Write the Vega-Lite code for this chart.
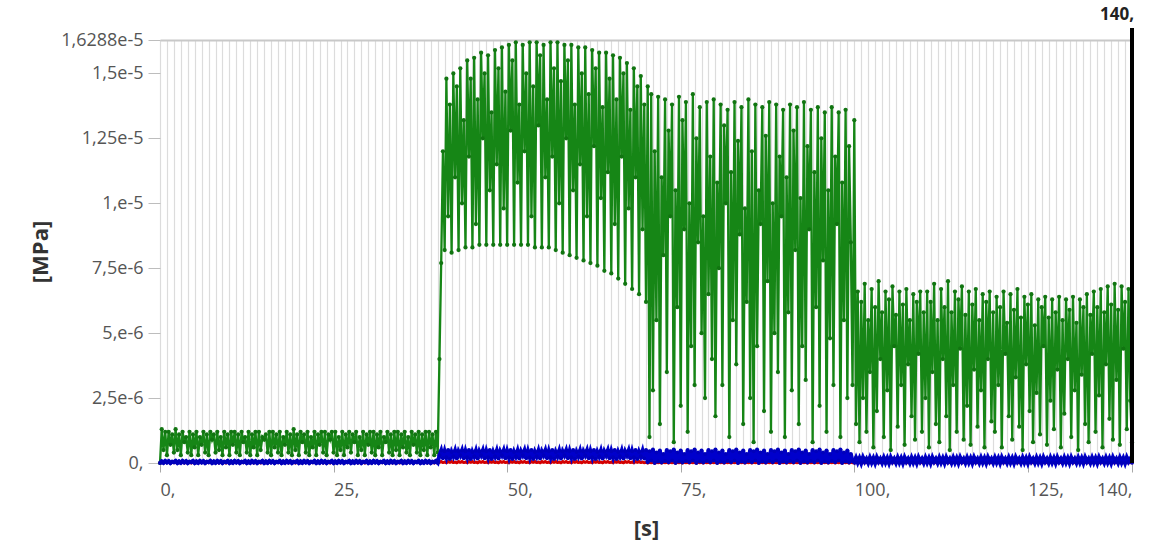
{
"$schema": "https://vega.github.io/schema/vega-lite/v6.json",
"width": 972, "height": 423,
"autosize": {"type": "none"},
"padding": {"left": 160, "top": 40, "right": 22, "bottom": 84},
"background": "white",
"config": {"view": {"stroke": null}, "font": "Open Sans"},
"data": {"values": [
{"t":0,"g":0,"b":0,"r":1e-8},{"t":0.25,"g":13e-7,"b":6e-8,"r":3e-8},{"t":0.5,"g":5e-7,"b":1e-8,"r":0},{"t":0.75,"g":12e-7,"b":8e-8,"r":2e-8},{"t":1,"g":3e-7,"b":2e-8,"r":1e-8},{"t":1.25,"g":12e-7,"b":7e-8,"r":3e-8},{"t":1.5,"g":7e-7,"b":0,"r":0},{"t":1.75,"g":11e-7,"b":5e-8,"r":2e-8},
{"t":2,"g":4e-7,"b":3e-8,"r":1e-8},{"t":2.25,"g":13e-7,"b":8e-8,"r":3e-8},{"t":2.5,"g":5e-7,"b":0,"r":0},{"t":2.75,"g":11e-7,"b":6e-8,"r":2e-8},{"t":3,"g":3e-7,"b":1e-8,"r":1e-8},{"t":3.25,"g":12e-7,"b":8e-8,"r":3e-8},{"t":3.5,"g":8e-7,"b":2e-8,"r":0},{"t":3.75,"g":10e-7,"b":7e-8,"r":2e-8},
{"t":4,"g":4e-7,"b":0,"r":1e-8},{"t":4.25,"g":12e-7,"b":5e-8,"r":3e-8},{"t":4.5,"g":3e-7,"b":3e-8,"r":0},{"t":4.75,"g":11e-7,"b":8e-8,"r":2e-8},{"t":5,"g":6e-7,"b":0,"r":1e-8},{"t":5.25,"g":12e-7,"b":6e-8,"r":3e-8},{"t":5.5,"g":3e-7,"b":1e-8,"r":0},{"t":5.75,"g":10e-7,"b":8e-8,"r":2e-8},
{"t":6,"g":7e-7,"b":2e-8,"r":1e-8},{"t":6.25,"g":12e-7,"b":7e-8,"r":3e-8},{"t":6.5,"g":4e-7,"b":0,"r":0},{"t":6.75,"g":11e-7,"b":5e-8,"r":2e-8},{"t":7,"g":3e-7,"b":3e-8,"r":1e-8},{"t":7.25,"g":12e-7,"b":8e-8,"r":3e-8},{"t":7.5,"g":9e-7,"b":0,"r":0},{"t":7.75,"g":11e-7,"b":6e-8,"r":2e-8},
{"t":8,"g":4e-7,"b":1e-8,"r":1e-8},{"t":8.25,"g":12e-7,"b":8e-8,"r":3e-8},{"t":8.5,"g":5e-7,"b":2e-8,"r":0},{"t":8.75,"g":10e-7,"b":7e-8,"r":2e-8},{"t":9,"g":3e-7,"b":0,"r":1e-8},{"t":9.25,"g":12e-7,"b":5e-8,"r":3e-8},{"t":9.5,"g":6e-7,"b":3e-8,"r":0},{"t":9.75,"g":11e-7,"b":8e-8,"r":2e-8},
{"t":10,"g":3e-7,"b":0,"r":1e-8},{"t":10.25,"g":12e-7,"b":6e-8,"r":3e-8},{"t":10.5,"g":7e-7,"b":1e-8,"r":0},{"t":10.75,"g":12e-7,"b":8e-8,"r":2e-8},{"t":11,"g":4e-7,"b":2e-8,"r":1e-8},{"t":11.25,"g":11e-7,"b":7e-8,"r":3e-8},{"t":11.5,"g":3e-7,"b":0,"r":0},{"t":11.75,"g":12e-7,"b":5e-8,"r":2e-8},
{"t":12,"g":8e-7,"b":3e-8,"r":1e-8},{"t":12.25,"g":10e-7,"b":8e-8,"r":3e-8},{"t":12.5,"g":4e-7,"b":0,"r":0},{"t":12.75,"g":12e-7,"b":6e-8,"r":2e-8},{"t":13,"g":3e-7,"b":1e-8,"r":1e-8},{"t":13.25,"g":11e-7,"b":8e-8,"r":3e-8},{"t":13.5,"g":6e-7,"b":2e-8,"r":0},{"t":13.75,"g":12e-7,"b":7e-8,"r":2e-8},
{"t":14,"g":3e-7,"b":0,"r":1e-8},{"t":14.25,"g":12e-7,"b":5e-8,"r":3e-8},{"t":14.5,"g":5e-7,"b":3e-8,"r":0},{"t":14.75,"g":10e-7,"b":8e-8,"r":2e-8},{"t":15,"g":9e-7,"b":0,"r":1e-8},{"t":15.25,"g":11e-7,"b":6e-8,"r":3e-8},{"t":15.5,"g":4e-7,"b":1e-8,"r":0},{"t":15.75,"g":12e-7,"b":8e-8,"r":2e-8},
{"t":16,"g":3e-7,"b":2e-8,"r":1e-8},{"t":16.25,"g":12e-7,"b":7e-8,"r":3e-8},{"t":16.5,"g":6e-7,"b":0,"r":0},{"t":16.75,"g":11e-7,"b":5e-8,"r":2e-8},{"t":17,"g":4e-7,"b":3e-8,"r":1e-8},{"t":17.25,"g":12e-7,"b":8e-8,"r":3e-8},{"t":17.5,"g":3e-7,"b":0,"r":0},{"t":17.75,"g":10e-7,"b":6e-8,"r":2e-8},
{"t":18,"g":7e-7,"b":1e-8,"r":1e-8},{"t":18.25,"g":12e-7,"b":8e-8,"r":3e-8},{"t":18.5,"g":4e-7,"b":2e-8,"r":0},{"t":18.75,"g":11e-7,"b":7e-8,"r":2e-8},{"t":19,"g":3e-7,"b":0,"r":1e-8},{"t":19.25,"g":13e-7,"b":5e-8,"r":3e-8},{"t":19.5,"g":5e-7,"b":3e-8,"r":0},{"t":19.75,"g":11e-7,"b":8e-8,"r":2e-8},
{"t":20,"g":3e-7,"b":0,"r":1e-8},{"t":20.25,"g":12e-7,"b":6e-8,"r":3e-8},{"t":20.5,"g":8e-7,"b":1e-8,"r":0},{"t":20.75,"g":11e-7,"b":8e-8,"r":2e-8},{"t":21,"g":4e-7,"b":2e-8,"r":1e-8},{"t":21.25,"g":12e-7,"b":7e-8,"r":3e-8},{"t":21.5,"g":3e-7,"b":0,"r":0},{"t":21.75,"g":10e-7,"b":5e-8,"r":2e-8},
{"t":22,"g":6e-7,"b":3e-8,"r":1e-8},{"t":22.25,"g":12e-7,"b":8e-8,"r":3e-8},{"t":22.5,"g":3e-7,"b":0,"r":0},{"t":22.75,"g":11e-7,"b":6e-8,"r":2e-8},{"t":23,"g":7e-7,"b":1e-8,"r":1e-8},{"t":23.25,"g":12e-7,"b":8e-8,"r":3e-8},{"t":23.5,"g":4e-7,"b":2e-8,"r":0},{"t":23.75,"g":12e-7,"b":7e-8,"r":2e-8},
{"t":24,"g":3e-7,"b":0,"r":1e-8},{"t":24.25,"g":11e-7,"b":5e-8,"r":3e-8},{"t":24.5,"g":9e-7,"b":3e-8,"r":0},{"t":24.75,"g":12e-7,"b":8e-8,"r":2e-8},{"t":25,"g":4e-7,"b":0,"r":1e-8},{"t":25.25,"g":12e-7,"b":6e-8,"r":3e-8},{"t":25.5,"g":3e-7,"b":1e-8,"r":0},{"t":25.75,"g":10e-7,"b":8e-8,"r":2e-8},
{"t":26,"g":5e-7,"b":2e-8,"r":1e-8},{"t":26.25,"g":12e-7,"b":7e-8,"r":3e-8},{"t":26.5,"g":3e-7,"b":0,"r":0},{"t":26.75,"g":11e-7,"b":5e-8,"r":2e-8},{"t":27,"g":6e-7,"b":3e-8,"r":1e-8},{"t":27.25,"g":12e-7,"b":8e-8,"r":3e-8},{"t":27.5,"g":4e-7,"b":0,"r":0},{"t":27.75,"g":11e-7,"b":6e-8,"r":2e-8},
{"t":28,"g":8e-7,"b":1e-8,"r":1e-8},{"t":28.25,"g":12e-7,"b":8e-8,"r":3e-8},{"t":28.5,"g":3e-7,"b":2e-8,"r":0},{"t":28.75,"g":10e-7,"b":7e-8,"r":2e-8},{"t":29,"g":5e-7,"b":0,"r":1e-8},{"t":29.25,"g":12e-7,"b":5e-8,"r":3e-8},{"t":29.5,"g":3e-7,"b":3e-8,"r":0},{"t":29.75,"g":11e-7,"b":8e-8,"r":2e-8},
{"t":30,"g":7e-7,"b":0,"r":1e-8},{"t":30.25,"g":12e-7,"b":6e-8,"r":3e-8},{"t":30.5,"g":4e-7,"b":1e-8,"r":0},{"t":30.75,"g":12e-7,"b":8e-8,"r":2e-8},{"t":31,"g":3e-7,"b":2e-8,"r":1e-8},{"t":31.25,"g":11e-7,"b":7e-8,"r":3e-8},{"t":31.5,"g":6e-7,"b":0,"r":0},{"t":31.75,"g":12e-7,"b":5e-8,"r":2e-8},
{"t":32,"g":3e-7,"b":3e-8,"r":1e-8},{"t":32.25,"g":10e-7,"b":8e-8,"r":3e-8},{"t":32.5,"g":8e-7,"b":0,"r":0},{"t":32.75,"g":12e-7,"b":6e-8,"r":2e-8},{"t":33,"g":4e-7,"b":1e-8,"r":1e-8},{"t":33.25,"g":11e-7,"b":8e-8,"r":3e-8},{"t":33.5,"g":3e-7,"b":2e-8,"r":0},{"t":33.75,"g":12e-7,"b":7e-8,"r":2e-8},
{"t":34,"g":5e-7,"b":0,"r":1e-8},{"t":34.25,"g":12e-7,"b":5e-8,"r":3e-8},{"t":34.5,"g":3e-7,"b":3e-8,"r":0},{"t":34.75,"g":11e-7,"b":8e-8,"r":2e-8},{"t":35,"g":6e-7,"b":0,"r":1e-8},{"t":35.25,"g":12e-7,"b":6e-8,"r":3e-8},{"t":35.5,"g":4e-7,"b":1e-8,"r":0},{"t":35.75,"g":10e-7,"b":8e-8,"r":2e-8},
{"t":36,"g":3e-7,"b":2e-8,"r":1e-8},{"t":36.25,"g":12e-7,"b":7e-8,"r":3e-8},{"t":36.5,"g":7e-7,"b":0,"r":0},{"t":36.75,"g":11e-7,"b":5e-8,"r":2e-8},{"t":37,"g":4e-7,"b":3e-8,"r":1e-8},{"t":37.25,"g":12e-7,"b":8e-8,"r":3e-8},{"t":37.5,"g":3e-7,"b":0,"r":0},{"t":37.75,"g":11e-7,"b":6e-8,"r":2e-8},
{"t":38,"g":5e-7,"b":1e-8,"r":1e-8},{"t":38.25,"g":12e-7,"b":8e-8,"r":3e-8},{"t":38.5,"g":3e-7,"b":2e-8,"r":0},{"t":38.75,"g":12e-7,"b":7e-8,"r":2e-8},{"t":39,"g":6e-7,"b":0,"r":1e-8},{"t":39.25,"g":11e-7,"b":5e-8,"r":3e-8},{"t":39.5,"g":3e-7,"b":3e-8,"r":0},{"t":39.75,"g":12e-7,"b":8e-8,"r":2e-8},
{"t":40,"g":4e-7,"b":1e-8,"r":1e-8},
{"t":40.25,"g":40e-7,"b":30e-8,"r":3e-8},{"t":40.5,"g":77e-7,"b":48e-8,"r":5e-8},{"t":40.75,"g":120e-7,"b":18e-8,"r":2e-8},{"t":41,"g":82e-7,"b":45e-8,"r":4e-8},{"t":41.25,"g":148e-7,"b":22e-8,"r":1e-8},{"t":41.5,"g":95e-7,"b":50e-8,"r":5e-8},{"t":41.75,"g":138e-7,"b":15e-8,"r":3e-8},{"t":42,"g":81e-7,"b":42e-8,"r":5e-8},
{"t":42.25,"g":150e-7,"b":26e-8,"r":2e-8},{"t":42.5,"g":110e-7,"b":47e-8,"r":4e-8},{"t":42.75,"g":145e-7,"b":17e-8,"r":1e-8},{"t":43,"g":82e-7,"b":44e-8,"r":5e-8},{"t":43.25,"g":152e-7,"b":30e-8,"r":3e-8},{"t":43.5,"g":100e-7,"b":48e-8,"r":5e-8},{"t":43.75,"g":132e-7,"b":18e-8,"r":2e-8},{"t":44,"g":83e-7,"b":45e-8,"r":4e-8},
{"t":44.25,"g":155e-7,"b":22e-8,"r":1e-8},{"t":44.5,"g":118e-7,"b":50e-8,"r":5e-8},{"t":44.75,"g":148e-7,"b":15e-8,"r":3e-8},{"t":45,"g":83e-7,"b":42e-8,"r":5e-8},{"t":45.25,"g":156e-7,"b":26e-8,"r":2e-8},{"t":45.5,"g":92e-7,"b":47e-8,"r":4e-8},{"t":45.75,"g":140e-7,"b":17e-8,"r":1e-8},{"t":46,"g":84e-7,"b":44e-8,"r":5e-8},
{"t":46.25,"g":158e-7,"b":30e-8,"r":3e-8},{"t":46.5,"g":125e-7,"b":48e-8,"r":5e-8},{"t":46.75,"g":150e-7,"b":18e-8,"r":2e-8},{"t":47,"g":84e-7,"b":45e-8,"r":4e-8},{"t":47.25,"g":157e-7,"b":22e-8,"r":1e-8},{"t":47.5,"g":105e-7,"b":50e-8,"r":5e-8},{"t":47.75,"g":135e-7,"b":15e-8,"r":3e-8},{"t":48,"g":84e-7,"b":42e-8,"r":5e-8},
{"t":48.25,"g":159e-7,"b":26e-8,"r":2e-8},{"t":48.5,"g":115e-7,"b":47e-8,"r":4e-8},{"t":48.75,"g":152e-7,"b":17e-8,"r":1e-8},{"t":49,"g":84e-7,"b":44e-8,"r":5e-8},{"t":49.25,"g":160e-7,"b":30e-8,"r":3e-8},{"t":49.5,"g":98e-7,"b":48e-8,"r":5e-8},{"t":49.75,"g":143e-7,"b":18e-8,"r":2e-8},{"t":50,"g":84e-7,"b":45e-8,"r":4e-8},
{"t":50.25,"g":161e-7,"b":22e-8,"r":1e-8},{"t":50.5,"g":128e-7,"b":50e-8,"r":5e-8},{"t":50.75,"g":155e-7,"b":15e-8,"r":3e-8},{"t":51,"g":84e-7,"b":42e-8,"r":5e-8},{"t":51.25,"g":162e-7,"b":26e-8,"r":2e-8},{"t":51.5,"g":108e-7,"b":47e-8,"r":4e-8},{"t":51.75,"g":138e-7,"b":17e-8,"r":1e-8},{"t":52,"g":84e-7,"b":44e-8,"r":5e-8},
{"t":52.25,"g":161e-7,"b":30e-8,"r":3e-8},{"t":52.5,"g":120e-7,"b":48e-8,"r":5e-8},{"t":52.75,"g":150e-7,"b":18e-8,"r":2e-8},{"t":53,"g":84e-7,"b":45e-8,"r":4e-8},{"t":53.25,"g":162e-7,"b":22e-8,"r":1e-8},{"t":53.5,"g":95e-7,"b":50e-8,"r":5e-8},{"t":53.75,"g":145e-7,"b":15e-8,"r":3e-8},{"t":54,"g":83e-7,"b":42e-8,"r":5e-8},
{"t":54.25,"g":162e-7,"b":26e-8,"r":2e-8},{"t":54.5,"g":130e-7,"b":47e-8,"r":4e-8},{"t":54.75,"g":157e-7,"b":17e-8,"r":1e-8},{"t":55,"g":83e-7,"b":44e-8,"r":5e-8},{"t":55.25,"g":161e-7,"b":30e-8,"r":3e-8},{"t":55.5,"g":110e-7,"b":48e-8,"r":5e-8},{"t":55.75,"g":140e-7,"b":18e-8,"r":2e-8},{"t":56,"g":83e-7,"b":45e-8,"r":4e-8},
{"t":56.25,"g":162e-7,"b":22e-8,"r":1e-8},{"t":56.5,"g":118e-7,"b":50e-8,"r":5e-8},{"t":56.75,"g":152e-7,"b":15e-8,"r":3e-8},{"t":57,"g":82e-7,"b":42e-8,"r":5e-8},{"t":57.25,"g":162e-7,"b":26e-8,"r":2e-8},{"t":57.5,"g":100e-7,"b":47e-8,"r":4e-8},{"t":57.75,"g":147e-7,"b":17e-8,"r":1e-8},{"t":58,"g":81e-7,"b":44e-8,"r":5e-8},
{"t":58.25,"g":161e-7,"b":30e-8,"r":3e-8},{"t":58.5,"g":125e-7,"b":48e-8,"r":5e-8},{"t":58.75,"g":155e-7,"b":18e-8,"r":2e-8},{"t":59,"g":80e-7,"b":45e-8,"r":4e-8},{"t":59.25,"g":161e-7,"b":22e-8,"r":1e-8},{"t":59.5,"g":105e-7,"b":50e-8,"r":5e-8},{"t":59.75,"g":138e-7,"b":15e-8,"r":3e-8},{"t":60,"g":79e-7,"b":42e-8,"r":5e-8},
{"t":60.25,"g":160e-7,"b":26e-8,"r":2e-8},{"t":60.5,"g":115e-7,"b":47e-8,"r":4e-8},{"t":60.75,"g":150e-7,"b":17e-8,"r":1e-8},{"t":61,"g":78e-7,"b":44e-8,"r":5e-8},{"t":61.25,"g":160e-7,"b":30e-8,"r":3e-8},{"t":61.5,"g":95e-7,"b":48e-8,"r":5e-8},{"t":61.75,"g":142e-7,"b":18e-8,"r":2e-8},{"t":62,"g":77e-7,"b":45e-8,"r":4e-8},
{"t":62.25,"g":159e-7,"b":22e-8,"r":1e-8},{"t":62.5,"g":122e-7,"b":50e-8,"r":5e-8},{"t":62.75,"g":152e-7,"b":15e-8,"r":3e-8},{"t":63,"g":76e-7,"b":42e-8,"r":5e-8},{"t":63.25,"g":158e-7,"b":26e-8,"r":2e-8},{"t":63.5,"g":102e-7,"b":47e-8,"r":4e-8},{"t":63.75,"g":137e-7,"b":17e-8,"r":1e-8},{"t":64,"g":74e-7,"b":44e-8,"r":5e-8},
{"t":64.25,"g":158e-7,"b":30e-8,"r":3e-8},{"t":64.5,"g":112e-7,"b":48e-8,"r":5e-8},{"t":64.75,"g":148e-7,"b":18e-8,"r":2e-8},{"t":65,"g":73e-7,"b":45e-8,"r":4e-8},{"t":65.25,"g":157e-7,"b":22e-8,"r":1e-8},{"t":65.5,"g":92e-7,"b":50e-8,"r":5e-8},{"t":65.75,"g":140e-7,"b":15e-8,"r":3e-8},{"t":66,"g":71e-7,"b":42e-8,"r":5e-8},
{"t":66.25,"g":156e-7,"b":26e-8,"r":2e-8},{"t":66.5,"g":118e-7,"b":47e-8,"r":4e-8},{"t":66.75,"g":150e-7,"b":17e-8,"r":1e-8},{"t":67,"g":69e-7,"b":44e-8,"r":5e-8},{"t":67.25,"g":154e-7,"b":30e-8,"r":3e-8},{"t":67.5,"g":98e-7,"b":48e-8,"r":5e-8},{"t":67.75,"g":136e-7,"b":18e-8,"r":2e-8},{"t":68,"g":67e-7,"b":45e-8,"r":4e-8},
{"t":68.25,"g":152e-7,"b":22e-8,"r":1e-8},{"t":68.5,"g":110e-7,"b":50e-8,"r":5e-8},{"t":68.75,"g":145e-7,"b":15e-8,"r":3e-8},{"t":69,"g":65e-7,"b":42e-8,"r":5e-8},{"t":69.25,"g":149e-7,"b":26e-8,"r":2e-8},{"t":69.5,"g":90e-7,"b":47e-8,"r":4e-8},{"t":69.75,"g":138e-7,"b":17e-8,"r":1e-8},{"t":70,"g":62e-7,"b":50e-8,"r":2e-8},
{"t":70.25,"g":145e-7,"b":3e-8,"r":0},{"t":70.5,"g":10e-7,"b":45e-8,"r":3e-8},{"t":70.75,"g":142e-7,"b":10e-8,"r":1e-8},{"t":71,"g":28e-7,"b":52e-8,"r":2e-8},{"t":71.25,"g":120e-7,"b":0,"r":0},{"t":71.5,"g":55e-7,"b":40e-8,"r":3e-8},{"t":71.75,"g":141e-7,"b":6e-8,"r":1e-8},{"t":72,"g":15e-7,"b":48e-8,"r":2e-8},
{"t":72.25,"g":110e-7,"b":2e-8,"r":0},{"t":72.5,"g":80e-7,"b":35e-8,"r":3e-8},{"t":72.75,"g":140e-7,"b":8e-8,"r":1e-8},{"t":73,"g":35e-7,"b":50e-8,"r":2e-8},{"t":73.25,"g":128e-7,"b":3e-8,"r":0},{"t":73.5,"g":95e-7,"b":45e-8,"r":3e-8},{"t":73.75,"g":138e-7,"b":10e-8,"r":1e-8},{"t":74,"g":8e-7,"b":52e-8,"r":2e-8},
{"t":74.25,"g":105e-7,"b":0,"r":0},{"t":74.5,"g":60e-7,"b":40e-8,"r":3e-8},{"t":74.75,"g":141e-7,"b":6e-8,"r":1e-8},{"t":75,"g":22e-7,"b":48e-8,"r":2e-8},{"t":75.25,"g":132e-7,"b":2e-8,"r":0},{"t":75.5,"g":90e-7,"b":35e-8,"r":3e-8},{"t":75.75,"g":139e-7,"b":8e-8,"r":1e-8},{"t":76,"g":12e-7,"b":50e-8,"r":2e-8},
{"t":76.25,"g":100e-7,"b":3e-8,"r":0},{"t":76.5,"g":45e-7,"b":45e-8,"r":3e-8},{"t":76.75,"g":142e-7,"b":10e-8,"r":1e-8},{"t":77,"g":30e-7,"b":52e-8,"r":2e-8},{"t":77.25,"g":125e-7,"b":0,"r":0},{"t":77.5,"g":85e-7,"b":40e-8,"r":3e-8},{"t":77.75,"g":137e-7,"b":6e-8,"r":1e-8},{"t":78,"g":50e-7,"b":48e-8,"r":2e-8},
{"t":78.25,"g":95e-7,"b":2e-8,"r":0},{"t":78.5,"g":25e-7,"b":35e-8,"r":3e-8},{"t":78.75,"g":139e-7,"b":8e-8,"r":1e-8},{"t":79,"g":65e-7,"b":50e-8,"r":2e-8},{"t":79.25,"g":118e-7,"b":3e-8,"r":0},{"t":79.5,"g":40e-7,"b":45e-8,"r":3e-8},{"t":79.75,"g":140e-7,"b":10e-8,"r":1e-8},{"t":80,"g":18e-7,"b":52e-8,"r":2e-8},
{"t":80.25,"g":108e-7,"b":0,"r":0},{"t":80.5,"g":75e-7,"b":40e-8,"r":3e-8},{"t":80.75,"g":138e-7,"b":6e-8,"r":1e-8},{"t":81,"g":30e-7,"b":48e-8,"r":2e-8},{"t":81.25,"g":130e-7,"b":2e-8,"r":0},{"t":81.5,"g":100e-7,"b":35e-8,"r":3e-8},{"t":81.75,"g":136e-7,"b":8e-8,"r":1e-8},{"t":82,"g":10e-7,"b":50e-8,"r":2e-8},
{"t":82.25,"g":112e-7,"b":3e-8,"r":0},{"t":82.5,"g":55e-7,"b":45e-8,"r":3e-8},{"t":82.75,"g":139e-7,"b":10e-8,"r":1e-8},{"t":83,"g":38e-7,"b":52e-8,"r":2e-8},{"t":83.25,"g":124e-7,"b":0,"r":0},{"t":83.5,"g":88e-7,"b":40e-8,"r":3e-8},{"t":83.75,"g":137e-7,"b":6e-8,"r":1e-8},{"t":84,"g":15e-7,"b":48e-8,"r":2e-8},
{"t":84.25,"g":98e-7,"b":2e-8,"r":0},{"t":84.5,"g":62e-7,"b":35e-8,"r":3e-8},{"t":84.75,"g":140e-7,"b":8e-8,"r":1e-8},{"t":85,"g":25e-7,"b":50e-8,"r":2e-8},{"t":85.25,"g":120e-7,"b":3e-8,"r":0},{"t":85.5,"g":8e-7,"b":45e-8,"r":3e-8},{"t":85.75,"g":138e-7,"b":10e-8,"r":1e-8},{"t":86,"g":45e-7,"b":52e-8,"r":2e-8},
{"t":86.25,"g":105e-7,"b":0,"r":0},{"t":86.5,"g":92e-7,"b":40e-8,"r":3e-8},{"t":86.75,"g":137e-7,"b":6e-8,"r":1e-8},{"t":87,"g":20e-7,"b":48e-8,"r":2e-8},{"t":87.25,"g":126e-7,"b":2e-8,"r":0},{"t":87.5,"g":70e-7,"b":35e-8,"r":3e-8},{"t":87.75,"g":139e-7,"b":8e-8,"r":1e-8},{"t":88,"g":12e-7,"b":50e-8,"r":2e-8},
{"t":88.25,"g":100e-7,"b":3e-8,"r":0},{"t":88.5,"g":50e-7,"b":45e-8,"r":3e-8},{"t":88.75,"g":138e-7,"b":10e-8,"r":1e-8},{"t":89,"g":35e-7,"b":52e-8,"r":2e-8},{"t":89.25,"g":118e-7,"b":0,"r":0},{"t":89.5,"g":95e-7,"b":40e-8,"r":3e-8},{"t":89.75,"g":136e-7,"b":6e-8,"r":1e-8},{"t":90,"g":10e-7,"b":48e-8,"r":2e-8},
{"t":90.25,"g":110e-7,"b":2e-8,"r":0},{"t":90.5,"g":58e-7,"b":35e-8,"r":3e-8},{"t":90.75,"g":138e-7,"b":8e-8,"r":1e-8},{"t":91,"g":28e-7,"b":50e-8,"r":2e-8},{"t":91.25,"g":128e-7,"b":3e-8,"r":0},{"t":91.5,"g":82e-7,"b":45e-8,"r":3e-8},{"t":91.75,"g":137e-7,"b":10e-8,"r":1e-8},{"t":92,"g":15e-7,"b":52e-8,"r":2e-8},
{"t":92.25,"g":102e-7,"b":0,"r":0},{"t":92.5,"g":45e-7,"b":40e-8,"r":3e-8},{"t":92.75,"g":139e-7,"b":6e-8,"r":1e-8},{"t":93,"g":32e-7,"b":48e-8,"r":2e-8},{"t":93.25,"g":122e-7,"b":2e-8,"r":0},{"t":93.5,"g":90e-7,"b":35e-8,"r":3e-8},{"t":93.75,"g":136e-7,"b":8e-8,"r":1e-8},{"t":94,"g":8e-7,"b":50e-8,"r":2e-8},
{"t":94.25,"g":112e-7,"b":3e-8,"r":0},{"t":94.5,"g":60e-7,"b":45e-8,"r":3e-8},{"t":94.75,"g":137e-7,"b":10e-8,"r":1e-8},{"t":95,"g":22e-7,"b":52e-8,"r":2e-8},{"t":95.25,"g":125e-7,"b":0,"r":0},{"t":95.5,"g":78e-7,"b":40e-8,"r":3e-8},{"t":95.75,"g":135e-7,"b":6e-8,"r":1e-8},{"t":96,"g":12e-7,"b":48e-8,"r":2e-8},
{"t":96.25,"g":105e-7,"b":2e-8,"r":0},{"t":96.5,"g":48e-7,"b":35e-8,"r":3e-8},{"t":96.75,"g":137e-7,"b":8e-8,"r":1e-8},{"t":97,"g":30e-7,"b":50e-8,"r":2e-8},{"t":97.25,"g":118e-7,"b":3e-8,"r":0},{"t":97.5,"g":92e-7,"b":45e-8,"r":3e-8},{"t":97.75,"g":135e-7,"b":10e-8,"r":1e-8},{"t":98,"g":10e-7,"b":52e-8,"r":2e-8},
{"t":98.25,"g":108e-7,"b":0,"r":0},{"t":98.5,"g":55e-7,"b":40e-8,"r":3e-8},{"t":98.75,"g":136e-7,"b":6e-8,"r":1e-8},{"t":99,"g":25e-7,"b":48e-8,"r":2e-8},{"t":99.25,"g":122e-7,"b":2e-8,"r":0},{"t":99.5,"g":85e-7,"b":35e-8,"r":3e-8},{"t":99.75,"g":30e-7,"b":8e-8,"r":1e-8},{"t":100,"g":132e-7,"b":3e-8,"r":0},
{"t":100.25,"g":15e-7,"b":20e-8,"r":2e-8},{"t":100.5,"g":66e-7,"b":2e-8,"r":0},{"t":100.75,"g":8e-7,"b":18e-8,"r":3e-8},{"t":101,"g":62e-7,"b":0,"r":1e-8},{"t":101.25,"g":25e-7,"b":21e-8,"r":2e-8},{"t":101.5,"g":69e-7,"b":5e-8,"r":0},{"t":101.75,"g":12e-7,"b":16e-8,"r":3e-8},{"t":102,"g":55e-7,"b":1e-8,"r":1e-8},
{"t":102.25,"g":35e-7,"b":20e-8,"r":2e-8},{"t":102.5,"g":67e-7,"b":2e-8,"r":0},{"t":102.75,"g":6e-7,"b":18e-8,"r":3e-8},{"t":103,"g":60e-7,"b":0,"r":1e-8},{"t":103.25,"g":20e-7,"b":21e-8,"r":2e-8},{"t":103.5,"g":70e-7,"b":5e-8,"r":0},{"t":103.75,"g":40e-7,"b":16e-8,"r":3e-8},{"t":104,"g":58e-7,"b":1e-8,"r":1e-8},
{"t":104.25,"g":10e-7,"b":20e-8,"r":2e-8},{"t":104.5,"g":66e-7,"b":2e-8,"r":0},{"t":104.75,"g":28e-7,"b":18e-8,"r":3e-8},{"t":105,"g":63e-7,"b":0,"r":1e-8},{"t":105.25,"g":5e-7,"b":21e-8,"r":2e-8},{"t":105.5,"g":68e-7,"b":5e-8,"r":0},{"t":105.75,"g":45e-7,"b":16e-8,"r":3e-8},{"t":106,"g":57e-7,"b":1e-8,"r":1e-8},
{"t":106.25,"g":14e-7,"b":20e-8,"r":2e-8},{"t":106.5,"g":66e-7,"b":2e-8,"r":0},{"t":106.75,"g":30e-7,"b":18e-8,"r":3e-8},{"t":107,"g":61e-7,"b":0,"r":1e-8},{"t":107.25,"g":7e-7,"b":21e-8,"r":2e-8},{"t":107.5,"g":67e-7,"b":5e-8,"r":0},{"t":107.75,"g":38e-7,"b":16e-8,"r":3e-8},{"t":108,"g":55e-7,"b":1e-8,"r":1e-8},
{"t":108.25,"g":18e-7,"b":20e-8,"r":2e-8},{"t":108.5,"g":65e-7,"b":2e-8,"r":0},{"t":108.75,"g":9e-7,"b":18e-8,"r":3e-8},{"t":109,"g":62e-7,"b":0,"r":1e-8},{"t":109.25,"g":42e-7,"b":21e-8,"r":2e-8},{"t":109.5,"g":66e-7,"b":5e-8,"r":0},{"t":109.75,"g":12e-7,"b":16e-8,"r":3e-8},{"t":110,"g":58e-7,"b":1e-8,"r":1e-8},
{"t":110.25,"g":25e-7,"b":20e-8,"r":2e-8},{"t":110.5,"g":66e-7,"b":2e-8,"r":0},{"t":110.75,"g":6e-7,"b":18e-8,"r":3e-8},{"t":111,"g":62e-7,"b":0,"r":1e-8},{"t":111.25,"g":35e-7,"b":21e-8,"r":2e-8},{"t":111.5,"g":69e-7,"b":5e-8,"r":0},{"t":111.75,"g":15e-7,"b":16e-8,"r":3e-8},{"t":112,"g":55e-7,"b":1e-8,"r":1e-8},
{"t":112.25,"g":8e-7,"b":20e-8,"r":2e-8},{"t":112.5,"g":67e-7,"b":2e-8,"r":0},{"t":112.75,"g":40e-7,"b":18e-8,"r":3e-8},{"t":113,"g":60e-7,"b":0,"r":1e-8},{"t":113.25,"g":18e-7,"b":21e-8,"r":2e-8},{"t":113.5,"g":70e-7,"b":5e-8,"r":0},{"t":113.75,"g":5e-7,"b":16e-8,"r":3e-8},{"t":114,"g":58e-7,"b":1e-8,"r":1e-8},
{"t":114.25,"g":30e-7,"b":20e-8,"r":2e-8},{"t":114.5,"g":66e-7,"b":2e-8,"r":0},{"t":114.75,"g":12e-7,"b":18e-8,"r":3e-8},{"t":115,"g":63e-7,"b":0,"r":1e-8},{"t":115.25,"g":44e-7,"b":21e-8,"r":2e-8},{"t":115.5,"g":68e-7,"b":5e-8,"r":0},{"t":115.75,"g":9e-7,"b":16e-8,"r":3e-8},{"t":116,"g":57e-7,"b":1e-8,"r":1e-8},
{"t":116.25,"g":22e-7,"b":20e-8,"r":2e-8},{"t":116.5,"g":66e-7,"b":2e-8,"r":0},{"t":116.75,"g":7e-7,"b":18e-8,"r":3e-8},{"t":117,"g":61e-7,"b":0,"r":1e-8},{"t":117.25,"g":36e-7,"b":21e-8,"r":2e-8},{"t":117.5,"g":67e-7,"b":5e-8,"r":0},{"t":117.75,"g":14e-7,"b":16e-8,"r":3e-8},{"t":118,"g":55e-7,"b":1e-8,"r":1e-8},
{"t":118.25,"g":28e-7,"b":20e-8,"r":2e-8},{"t":118.5,"g":65e-7,"b":2e-8,"r":0},{"t":118.75,"g":6e-7,"b":18e-8,"r":3e-8},{"t":119,"g":62e-7,"b":0,"r":1e-8},{"t":119.25,"g":40e-7,"b":21e-8,"r":2e-8},{"t":119.5,"g":66e-7,"b":5e-8,"r":0},{"t":119.75,"g":16e-7,"b":16e-8,"r":3e-8},{"t":120,"g":58e-7,"b":1e-8,"r":1e-8},
{"t":120.25,"g":12e-7,"b":20e-8,"r":2e-8},{"t":120.5,"g":64e-7,"b":2e-8,"r":0},{"t":120.75,"g":30e-7,"b":18e-8,"r":3e-8},{"t":121,"g":60e-7,"b":0,"r":1e-8},{"t":121.25,"g":6e-7,"b":21e-8,"r":2e-8},{"t":121.5,"g":66e-7,"b":5e-8,"r":0},{"t":121.75,"g":42e-7,"b":16e-8,"r":3e-8},{"t":122,"g":54e-7,"b":1e-8,"r":1e-8},
{"t":122.25,"g":18e-7,"b":20e-8,"r":2e-8},{"t":122.5,"g":65e-7,"b":2e-8,"r":0},{"t":122.75,"g":9e-7,"b":18e-8,"r":3e-8},{"t":123,"g":59e-7,"b":0,"r":1e-8},{"t":123.25,"g":33e-7,"b":21e-8,"r":2e-8},{"t":123.5,"g":67e-7,"b":5e-8,"r":0},{"t":123.75,"g":14e-7,"b":16e-8,"r":3e-8},{"t":124,"g":56e-7,"b":1e-8,"r":1e-8},
{"t":124.25,"g":5e-7,"b":20e-8,"r":2e-8},{"t":124.5,"g":64e-7,"b":2e-8,"r":0},{"t":124.75,"g":38e-7,"b":18e-8,"r":3e-8},{"t":125,"g":61e-7,"b":0,"r":1e-8},{"t":125.25,"g":20e-7,"b":21e-8,"r":2e-8},{"t":125.5,"g":65e-7,"b":5e-8,"r":0},{"t":125.75,"g":8e-7,"b":16e-8,"r":3e-8},{"t":126,"g":53e-7,"b":1e-8,"r":1e-8},
{"t":126.25,"g":27e-7,"b":20e-8,"r":2e-8},{"t":126.5,"g":63e-7,"b":2e-8,"r":0},{"t":126.75,"g":11e-7,"b":18e-8,"r":3e-8},{"t":127,"g":60e-7,"b":0,"r":1e-8},{"t":127.25,"g":45e-7,"b":21e-8,"r":2e-8},{"t":127.5,"g":64e-7,"b":5e-8,"r":0},{"t":127.75,"g":7e-7,"b":16e-8,"r":3e-8},{"t":128,"g":56e-7,"b":1e-8,"r":1e-8},
{"t":128.25,"g":24e-7,"b":20e-8,"r":2e-8},{"t":128.5,"g":63e-7,"b":2e-8,"r":0},{"t":128.75,"g":13e-7,"b":18e-8,"r":3e-8},{"t":129,"g":58e-7,"b":0,"r":1e-8},{"t":129.25,"g":36e-7,"b":21e-8,"r":2e-8},{"t":129.5,"g":64e-7,"b":5e-8,"r":0},{"t":129.75,"g":6e-7,"b":16e-8,"r":3e-8},{"t":130,"g":55e-7,"b":1e-8,"r":1e-8},
{"t":130.25,"g":19e-7,"b":20e-8,"r":2e-8},{"t":130.5,"g":63e-7,"b":2e-8,"r":0},{"t":130.75,"g":40e-7,"b":18e-8,"r":3e-8},{"t":131,"g":59e-7,"b":0,"r":1e-8},{"t":131.25,"g":10e-7,"b":21e-8,"r":2e-8},{"t":131.5,"g":64e-7,"b":5e-8,"r":0},{"t":131.75,"g":28e-7,"b":16e-8,"r":3e-8},{"t":132,"g":54e-7,"b":1e-8,"r":1e-8},
{"t":132.25,"g":5e-7,"b":20e-8,"r":2e-8},{"t":132.5,"g":63e-7,"b":2e-8,"r":0},{"t":132.75,"g":34e-7,"b":18e-8,"r":3e-8},{"t":133,"g":60e-7,"b":0,"r":1e-8},{"t":133.25,"g":15e-7,"b":21e-8,"r":2e-8},{"t":133.5,"g":65e-7,"b":5e-8,"r":0},{"t":133.75,"g":8e-7,"b":16e-8,"r":3e-8},{"t":134,"g":57e-7,"b":1e-8,"r":1e-8},
{"t":134.25,"g":42e-7,"b":20e-8,"r":2e-8},{"t":134.5,"g":66e-7,"b":2e-8,"r":0},{"t":134.75,"g":12e-7,"b":18e-8,"r":3e-8},{"t":135,"g":60e-7,"b":0,"r":1e-8},{"t":135.25,"g":26e-7,"b":21e-8,"r":2e-8},{"t":135.5,"g":67e-7,"b":5e-8,"r":0},{"t":135.75,"g":6e-7,"b":16e-8,"r":3e-8},{"t":136,"g":58e-7,"b":1e-8,"r":1e-8},
{"t":136.25,"g":38e-7,"b":20e-8,"r":2e-8},{"t":136.5,"g":68e-7,"b":2e-8,"r":0},{"t":136.75,"g":17e-7,"b":18e-8,"r":3e-8},{"t":137,"g":61e-7,"b":0,"r":1e-8},{"t":137.25,"g":9e-7,"b":21e-8,"r":2e-8},{"t":137.5,"g":69e-7,"b":5e-8,"r":0},{"t":137.75,"g":32e-7,"b":16e-8,"r":3e-8},{"t":138,"g":59e-7,"b":1e-8,"r":1e-8},
{"t":138.25,"g":7e-7,"b":20e-8,"r":2e-8},{"t":138.5,"g":68e-7,"b":2e-8,"r":0},{"t":138.75,"g":44e-7,"b":18e-8,"r":3e-8},{"t":139,"g":62e-7,"b":0,"r":1e-8},{"t":139.25,"g":13e-7,"b":21e-8,"r":2e-8},{"t":139.5,"g":67e-7,"b":5e-8,"r":0},{"t":139.75,"g":24e-7,"b":16e-8,"r":3e-8},{"t":140,"g":8e-7,"b":1e-8,"r":1e-8}
]},
"encoding": {
  "x": {"field": "t", "type": "quantitative",
    "scale": {"domain": [0, 140], "nice": false, "zero": false},
    "axis": {
      "title": "[s]", "titleFontSize": 22, "titleFontWeight": "bold", "titleColor": "#333333", "titlePadding": 19,
      "tickCount": 140, "labelOverlap": false, "labelFlush": false,
      "labelExpr": "(datum.value % 25 === 0 || datum.value === 140) ? datum.value + ',' : ''",
      "labelAlign": {"condition": {"test": "datum.value === 140", "value": "right"}, "value": "left"},
      "labelDx": -3,
      "labelFontSize": 18, "labelColor": "#555555", "labelPadding": 9,
      "tickSize": 9, "tickColor": "#a8a8a8",
      "tickOpacity": {"condition": {"test": "datum.value % 25 === 0 || datum.value === 140", "value": 1}, "value": 0},
      "domain": false,
      "grid": true, "gridColor": "#dcdcdc", "gridWidth": 1.2
    }}
},
"layer": [
  {"mark": {"type": "line", "color": "#168616", "strokeWidth": 2.3, "point": {"filled": true, "size": 18, "color": "#117511"}},
   "encoding": {"y": {"field": "g", "type": "quantitative",
     "scale": {"domain": [0, 1.6288e-5], "nice": false, "zero": true},
     "axis": {
       "title": "[MPa]", "titleFontSize": 22, "titleFontWeight": "bold", "titleColor": "#333333", "titlePadding": 8,
       "values": [0, 2.5e-6, 5e-6, 7.5e-6, 1e-5, 1.25e-5, 1.5e-5, 1.6288e-5],
       "labelExpr": "datum.value === 0 ? '0,' : (indexof(format(datum.value, '~e'), '.') >= 0 ? replace(format(datum.value, '~e'), '.', ',') : replace(format(datum.value, '~e'), 'e', ',e'))",
       "labelFontSize": 18, "labelColor": "#555555", "labelPadding": 5,
       "tickSize": 12, "tickColor": "#bdbdbd",
       "domain": false,
       "grid": true, "gridColor": "#c8c8c8", "gridWidth": 2,
       "gridOpacity": {"condition": {"test": "datum.value > 1.6e-5", "value": 1}, "value": 0}
     }}}},
  {"mark": {"type": "line", "color": "#d40000", "strokeWidth": 2.5, "point": {"filled": true, "size": 10, "color": "#d40000"}},
   "encoding": {"y": {"field": "r", "type": "quantitative"}}},
  {"mark": {"type": "line", "color": "#0000cc", "strokeWidth": 4, "point": {"filled": true, "size": 16, "color": "#0000bb"}},
   "encoding": {"y": {"field": "b", "type": "quantitative"}}},
  {"data": {"values": [{"t": 140, "top": 1.675e-5, "bottom": 0}]},
   "mark": {"type": "rule", "color": "#000000", "strokeWidth": 4},
   "encoding": {"y": {"field": "top", "type": "quantitative"}, "y2": {"field": "bottom"}}},
  {"data": {"values": [{"t": 140, "top": 1.675e-5, "label": "140,"}]},
   "mark": {"type": "text", "align": "right", "baseline": "bottom", "dx": 2, "dy": -4, "fontSize": 17, "fontWeight": "bold", "color": "#222222"},
   "encoding": {"y": {"field": "top", "type": "quantitative"}, "text": {"field": "label"}}}
]
}
